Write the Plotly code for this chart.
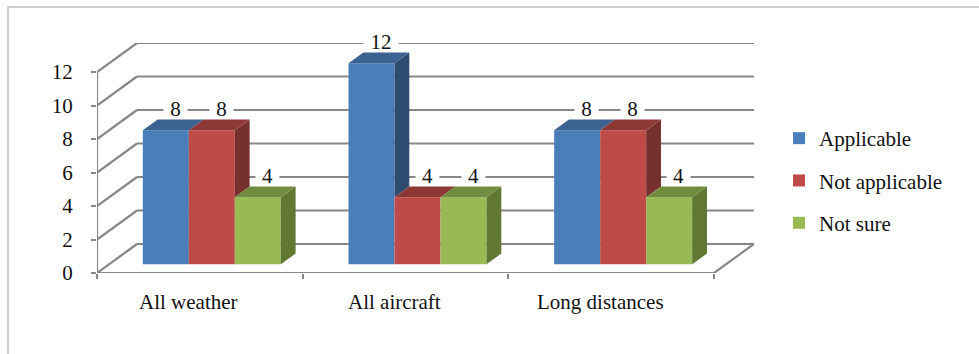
import plotly.graph_objects as go

# ---- data -------------------------------------------------------------
categories = ["All weather", "All aircraft", "Long distances"]
series_names = ["Applicable", "Not applicable", "Not sure"]
applicable = [8, 12, 8]
not_applicable = [8, 4, 8]
not_sure = [4, 4, 4]
y_ticks = [0, 2, 4, 6, 8, 10, 12]

series_values = [applicable, not_applicable, not_sure]

# ---- styling ----------------------------------------------------------
front_colors = ["#4A7EBB", "#BE4B48", "#98B954"]
top_colors = ["#3C6291", "#8E3835", "#728C3F"]
side_colors = ["#2E4B70", "#76302D", "#617833"]
grid_color = "#878787"
text_color = "#111111"
FONT = "Liberation Serif, Times New Roman, serif"
FS = 21

# ---- oblique projection geometry (in axis units) ----------------------
W, H = 979, 354
ML, MR, MT, MB = 97, 225, 43, 81
px_per_cat = 205.67
px_per_unit = 16.75
DX = 40 / px_per_cat          # full floor depth, horizontal
DY = 29 / px_per_unit         # full floor depth, vertical
F0 = 0.30                     # depth at which the bar front faces sit
FD = 0.37                     # bar depth as a fraction of the floor depth
x_shift, base = F0 * DX, F0 * DY
ddx, ddy = FD * DX, FD * DY
bar_w = 46 / px_per_cat

x_lo, x_hi = -0.5, len(categories) - 0.5
y_top = max(y_ticks)

fig = go.Figure()

# front faces
for s, (name, vals) in enumerate(zip(series_names, series_values)):
    fig.add_trace(go.Bar(
        name=name,
        x=[i + x_shift for i in range(len(categories))],
        y=vals,
        base=[base] * len(vals),
        width=bar_w,
        offset=(s - 1.5) * bar_w,
        marker=dict(color=front_colors[s], line=dict(width=0)),
        legendgroup=name,
        hoverinfo="skip",
    ))

# top and side faces, with the parts hidden by the next bar removed
for i in range(len(categories)):
    for s, vals in enumerate(series_values):
        v = vals[i]
        xl = i + x_shift + (s - 1.5) * bar_w
        xr = xl + bar_w
        top = base + v
        nxt = series_values[s + 1][i] if s + 1 < len(series_values) else None

        # side face
        lo = base if nxt is None else base + nxt
        if nxt is None or nxt < v:
            fig.add_trace(go.Scatter(
                x=[xr, xr + ddx, xr + ddx, xr, xr],
                y=[lo, lo + ddy, top + ddy, top, lo],
                fill="toself", fillcolor=side_colors[s], mode="lines",
                line=dict(width=0, color=side_colors[s]),
                showlegend=False, hoverinfo="skip",
            ))
        # top face
        if nxt is not None and nxt > v:
            tx = [xl, xl + ddx, xr, xr, xl]
        else:
            tx = [xl, xl + ddx, xr + ddx, xr, xl]
        fig.add_trace(go.Scatter(
            x=tx,
            y=[top, top + ddy, top + ddy, top, top],
            fill="toself", fillcolor=top_colors[s], mode="lines",
            line=dict(width=0, color=top_colors[s]),
            showlegend=False, hoverinfo="skip",
        ))

# ---- walls, floor and gridlines ---------------------------------------
shapes = []
def seg(x0, y0, x1, y1, color=grid_color, width=2.2):
    shapes.append(dict(type="line", xref="x", yref="y", x0=x0, y0=y0,
                       x1=x1, y1=y1, layer="below",
                       line=dict(color=color, width=width)))

for v in y_ticks:
    seg(x_lo + DX, v + DY, x_hi + DX, v + DY)   # back wall
    seg(x_lo, v, x_lo + DX, v + DY)             # side wall
seg(x_lo, 0, x_lo, y_top)                       # value axis
seg(x_lo, 0, x_hi, 0)                           # category axis
seg(x_hi, 0, x_hi + DX, DY)                     # floor edge

# chart frame
plot_w = W - ML - MR
plot_h = H - MT - MB
shapes.append(dict(type="rect", xref="paper", yref="paper",
                   x0=(8 - ML) / plot_w, x1=(W + 10 - ML) / plot_w,
                   y0=-(H + 10 - (H - MB)) / plot_h, y1=(H - MB - 7) / plot_h,
                   line=dict(color="#BFBFBF", width=1.5), layer="below"))

# ---- labels -----------------------------------------------------------
annotations = []
for s, vals in enumerate(series_values):
    for i, v in enumerate(vals):
        cx = i + x_shift + (s - 1) * bar_w
        label = str(v)
        annotations.append(dict(
            x=cx + 0.65 * ddx, y=v + DY, xref="x", yref="y",
            text=label, showarrow=False, bgcolor="white", borderpad=0,
            width=11 * len(label) + 12, height=18, valign="middle",
            font=dict(family=FONT, size=FS, color=text_color),
            xanchor="center", yanchor="middle", yshift=1))

for i, c in enumerate(categories):
    annotations.append(dict(
        x=i, y=-(302 - (H - MB)) / plot_h, xref="x", yref="paper",
        text=c, showarrow=False, xshift=-11,
        font=dict(family=FONT, size=FS, color=text_color),
        xanchor="center", yanchor="middle"))

fig.update_layout(
    width=W, height=H,
    margin=dict(l=ML, r=MR, t=MT, b=MB, pad=0),
    paper_bgcolor="white", plot_bgcolor="rgba(0,0,0,0)",
    barmode="overlay",
    showlegend=True,
    legend=dict(x=(779 - ML) / plot_w, y=(H - MB - 118) / plot_h,
                xanchor="left", yanchor="top",
                font=dict(family=FONT, size=FS, color=text_color),
                tracegroupgap=12, itemclick=False, itemdoubleclick=False,
                bgcolor="rgba(0,0,0,0)"),
    xaxis=dict(range=[x_lo, x_hi + DX], showgrid=False, zeroline=False,
               showline=False, tickmode="array",
               tickvals=[x_lo + k for k in range(len(categories) + 1)],
               showticklabels=False, ticks="outside", ticklen=5,
               tickwidth=1.5, tickcolor=grid_color, fixedrange=True),
    yaxis=dict(range=[0, y_top + DY], showgrid=False, zeroline=False,
               showline=False, tickmode="array", tickvals=y_ticks,
               ticktext=[str(t) for t in y_ticks],
               ticks="outside", ticklen=5, tickwidth=1.5,
               tickcolor=grid_color, ticklabelstandoff=14,
               tickfont=dict(family=FONT, size=FS, color=text_color),
               fixedrange=True),
    shapes=shapes,
    annotations=annotations,
    hovermode=False,
)

fig.write_html("out.html", config={"displayModeBar": False})
